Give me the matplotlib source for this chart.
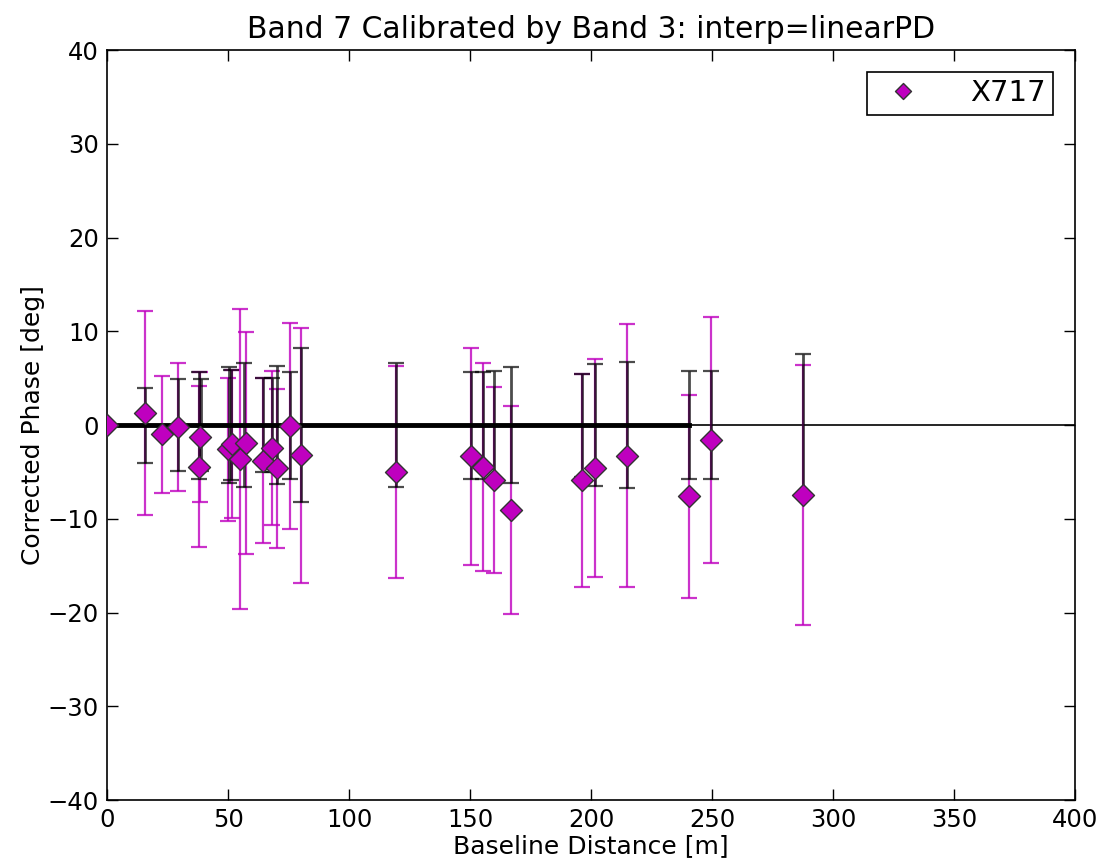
import matplotlib
matplotlib.use("Agg")
import matplotlib.pyplot as plt
import numpy as np
from matplotlib.markers import MarkerStyle

# magenta points: baseline length, corrected phase, phase error
base_x = [0.0, 15.7, 22.7, 29.3, 38.4, 38.0, 50.1, 51.5, 55.0, 57.3,
          64.6, 68.1, 70.1, 75.6, 80.0, 119.4, 150.4, 155.2, 160.0, 166.9,
          196.1, 201.4, 215.0, 240.6, 249.6, 287.7]
phase = [0.0, 1.3, -1.0, -0.2, -1.25, -4.45, -2.6, -2.0, -3.6, -1.9,
         -3.8, -2.45, -4.6, -0.1, -3.2, -5.0, -3.35, -4.5, -5.85, -9.1,
         -5.9, -4.6, -3.25, -7.6, -1.6, -7.45]
phase_err = [0.0, 10.85, 6.2, 6.85, 6.95, 8.6, 7.6, 7.9, 16.0, 11.8,
             8.8, 8.2, 8.5, 11.0, 13.6, 11.3, 11.6, 11.1, 9.9, 11.1,
             11.4, 11.65, 14.0, 10.8, 13.15, 13.9]

# black reference bars, centred on zero
ref_x = [0.0, 15.7, 29.3, 38.0, 38.6, 50.3, 51.2, 56.5, 64.6, 68.0,
         70.1, 75.6, 80.0, 119.4, 150.4, 155.2, 160.0, 166.9, 196.1, 201.4,
         215.0, 240.6, 249.6, 287.7]
ref_err = [0.0, 4.0, 4.9, 5.7, 4.9, 6.2, 5.9, 6.6, 5.0, 5.0,
           6.3, 5.7, 8.25, 6.6, 5.7, 5.7, 5.8, 6.2, 5.5, 6.5,
           6.75, 5.8, 5.8, 7.6]
ref_y = np.zeros(len(ref_x))

fig = plt.figure(figsize=(11.04, 8.64), dpi=100)
ax = fig.add_axes([0.097, 0.074, 0.877, 0.868])

ax.errorbar(base_x, phase, yerr=phase_err, fmt="none", ecolor="m",
            elinewidth=1.6, capsize=6, capthick=1.6, alpha=0.8, zorder=2)
ax.errorbar(ref_x, ref_y, yerr=ref_err, fmt="none", ecolor="k",
            elinewidth=2.0, capsize=6, capthick=1.6, alpha=0.7, zorder=3)
ax.plot(ref_x[:-2], ref_y[:-2], "k-", lw=3.5, zorder=3)
ax.axhline(0, color="k", lw=1.2, zorder=1)
ax.plot(base_x, phase, ls="none", marker=MarkerStyle("D", joinstyle="round"),
        color="m", mec="#333333", mew=1.0, ms=11, label="X717", zorder=4)

ax.set_xlim(0, 400)
ax.set_ylim(-40, 40)
ax.set_xticks(np.arange(0, 401, 50))
ax.set_yticks(np.arange(-40, 41, 10))
ax.tick_params(direction="in", top=True, right=True, length=8, width=1,
               labelsize=17.5, pad=6)
for s in ax.spines.values():
    s.set_linewidth(1.2)

ax.set_title("Band 7 Calibrated by Band 3: interp=linearPD", fontsize=21.5, pad=9)
ax.set_xlabel("Baseline Distance [m]", fontsize=18, labelpad=1)
ax.set_ylabel("Corrected Phase [deg]", fontsize=18, labelpad=2)

leg = ax.legend(loc="upper right", numpoints=1, fontsize=21, fancybox=False,
                framealpha=1, edgecolor="k", markerscale=0.7,
                borderpad=0.25, handletextpad=1.3, borderaxespad=0.75)
leg.get_frame().set_linewidth(1.2)

fig.savefig("out.png", dpi=100, facecolor="white")
